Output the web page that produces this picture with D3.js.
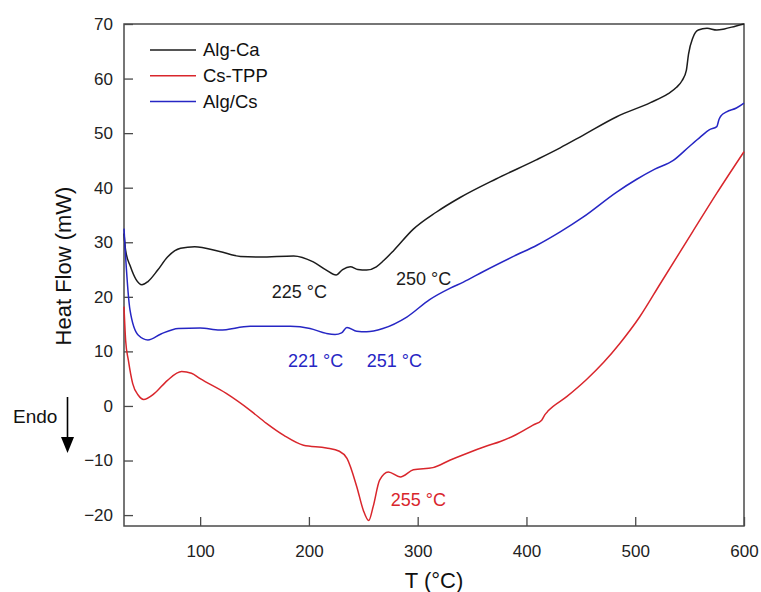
<!DOCTYPE html>
<html>
<head>
<meta charset="utf-8">
<script src="https://cdn.jsdelivr.net/npm/d3@7"></script>
<style>
  body { margin: 0; background: #fff; }
  svg text { font-family: "Liberation Sans", Arial, sans-serif; }
</style>
</head>
<body>
<div class="chart"></div>
<script>
// values: [T (°C), heat flow (mW)]
const algCa = [
  [30, 31.6], [31.5, 28.5], [36, 25.5], [41, 23.2], [46.5, 22.2], [52, 22.8], [61, 24.9],
  [70, 27.3], [82, 28.9], [95, 29.2], [118, 28.3], [137, 27.4], [155, 27.3], [186, 27.5],
  [204, 26.4], [216, 24.9], [225, 24.0], [231, 25.0], [238, 25.5], [245, 25.0], [253, 24.9],
  [262, 25.5], [269, 26.7], [278, 28.5], [296, 32.4], [317, 35.5], [339, 38.2], [372, 41.6],
  [409, 45.1], [431, 47.3], [452, 49.6], [483, 53.0], [514, 55.6], [530, 57.2], [538, 58.4],
  [543, 59.6], [547, 61.5], [549, 64.5], [553, 67.5], [558, 68.9], [566, 69.2], [575, 68.9],
  [582, 69.1], [592, 69.6], [600, 70.0]
];
const csTpp = [
  [30, 18.2], [31.5, 12], [34, 8.4], [38, 4.1], [43, 2.0], [48, 1.2], [58, 2.3],
  [70, 4.7], [83, 6.3], [92, 6.0], [100, 5.0], [124, 2.3], [146, -0.8], [161, -3.2],
  [177, -5.4], [195, -7.2], [216, -7.7], [228, -8.3], [235, -9.6], [244, -14.8],
  [250, -19.1], [255, -21.0], [259, -18.5], [265, -13.6], [273, -12.1], [284, -13.0],
  [296, -11.7], [314, -11.3], [330, -9.9], [345, -8.7], [364, -7.3], [376, -6.5],
  [388, -5.5], [406, -3.5], [414, -2.6], [417, -1.6], [420, -0.9], [437, 1.7], [455, 4.8],
  [471, 8.0], [486, 11.5], [504, 16.3], [523, 22.4], [553, 32.0], [575, 39.0], [600, 46.6]
];
const algCs = [
  [30, 32.5], [31.5, 27.3], [35.5, 17.6], [43, 13.0], [52, 12.1], [64, 13.2], [80, 14.2],
  [100, 14.3], [118, 13.9], [146, 14.6], [183, 14.6], [201, 14.2], [216, 13.3], [224, 13.1],
  [230, 13.4], [235, 14.4], [244, 13.7], [253, 13.6], [268, 14.2], [290, 16.3], [311, 19.5],
  [330, 21.6], [342, 22.7], [360, 24.6], [388, 27.4], [410, 29.5], [431, 31.9], [452, 34.6],
  [483, 39.2], [501, 41.5], [518, 43.4], [535, 45.0], [550, 47.6], [560, 49.3], [568, 50.6],
  [575, 51.2], [577, 52.5], [579, 53.2], [584, 53.9], [593, 54.6], [600, 55.5]
];
const seriesNames = ['Alg-Ca', 'Cs-TPP', 'Alg/Cs'];
const seriesColors = ['#1c1c1c', '#d9262c', '#2626c4'];
const xTicks = [100, 200, 300, 400, 500, 600];
const yTicks = [-20, -10, 0, 10, 20, 30, 40, 50, 60, 70];
const annotations = [
  { text: '225 °C', t: 271.7, v: 19.7, c: 0 },
  { text: '250 °C', t: 396, v: 22.2, c: 0 },
  { text: '221 °C', t: 288, v: 7.2, c: 2 },
  { text: '251 °C', t: 366.7, v: 7.2, c: 2 },
  { text: '255 °C', t: 390.7, v: -18.3, c: 1 }
];

const W = 761, H = 592;
const margin = { top: 24, right: 17, bottom: 66, left: 124 };
const width = W - margin.left - margin.right;
const height = H - margin.top - margin.bottom;

const svg = d3.select('.chart').append('svg')
  .attr('width', W).attr('height', H);
const g = svg.append('g')
  .attr('transform', 'translate(' + margin.left + ',' + margin.top + ')');

const x = d3.scaleLinear().domain([30, 600]).range([0, width]);
const y = d3.scaleLinear().domain([-22, 70]).range([height, 0]);
const axisColor = '#4a4a4a';

// frame
g.append('rect')
  .attr('width', width).attr('height', height)
  .attr('fill', 'none').attr('stroke', axisColor).attr('stroke-width', 1.5);

// x axis, inward ticks
const xAxis = g.append('g').attr('transform', 'translate(0,' + height + ')');
xAxis.call(d3.axisBottom(x).tickValues(d3.range(50, 601, 50)).tickSize(-5).tickFormat(''));
xAxis.call(d3.axisBottom(x).tickValues(xTicks).tickSize(-9).tickPadding(16).tickFormat(d3.format('d')));
xAxis.selectAll('.domain').remove();
xAxis.selectAll('line').attr('stroke', axisColor).attr('stroke-width', 1.3);
xAxis.selectAll('text').attr('font-size', 17).attr('fill', '#222').attr('dy', '0.9em');

// y axis, inward ticks
const yAxis = g.append('g');
yAxis.call(d3.axisLeft(y).tickValues(d3.range(-20, 71, 5)).tickSize(-5).tickFormat(''));
yAxis.call(d3.axisLeft(y).tickValues(yTicks).tickSize(-9).tickPadding(11).tickFormat(d3.format('d')));
yAxis.selectAll('.domain').remove();
yAxis.selectAll('line').attr('stroke', axisColor).attr('stroke-width', 1.3);
yAxis.selectAll('text').attr('font-size', 17).attr('fill', '#222');

// axis titles
svg.append('text')
  .attr('transform', 'translate(71,' + 266 + ') rotate(-90)')
  .attr('text-anchor', 'middle')
  .attr('font-size', 22).attr('fill', '#111')
  .text('Heat Flow (mW)');
svg.append('text')
  .attr('x', margin.left + width / 2).attr('y', 588)
  .attr('text-anchor', 'middle')
  .attr('font-size', 22).attr('fill', '#111')
  .text('T (°C)');

// curves
const line = d3.line()
  .x((d) => x(d[0]))
  .y((d) => y(d[1]))
  .curve(d3.curveMonotoneX);
[algCa, csTpp, algCs].forEach((s, i) => {
  g.append('path')
    .datum(s)
    .attr('fill', 'none')
    .attr('stroke', seriesColors[i])
    .attr('stroke-width', 1.5)
    .attr('d', line);
});

// legend
const legend = g.selectAll('.legend')
  .data(seriesNames)
  .enter()
  .append('g')
  .attr('class', 'legend')
  .attr('transform', (d, i) => 'translate(26,' + (26 + 25.8 * i) + ')');
legend.append('line')
  .attr('x1', 0).attr('x2', 46)
  .attr('stroke', (d, i) => seriesColors[i]).attr('stroke-width', 1.5);
legend.append('text')
  .attr('x', 53).attr('dy', '0.35em')
  .attr('font-size', 18.5).attr('fill', '#111')
  .text((d) => d);

// peak labels
g.selectAll('.peak')
  .data(annotations)
  .enter()
  .append('text')
  .attr('class', 'peak')
  .attr('x', (d) => x(30) + (d.t - 124))
  .attr('y', (d) => y(d.v))
  .attr('font-size', 18)
  .attr('fill', (d) => seriesColors[d.c])
  .text((d) => d.text);

// Endo arrow
svg.append('text')
  .attr('x', 13).attr('y', 423)
  .attr('font-size', 19).attr('fill', '#111')
  .text('Endo');
svg.append('line')
  .attr('x1', 67.5).attr('x2', 67.5).attr('y1', 397).attr('y2', 440)
  .attr('stroke', '#000').attr('stroke-width', 1.6);
svg.append('path')
  .attr('d', 'M61,437 L74,437 L67.5,453 Z')
  .attr('fill', '#000');
</script>
</body>
</html>
